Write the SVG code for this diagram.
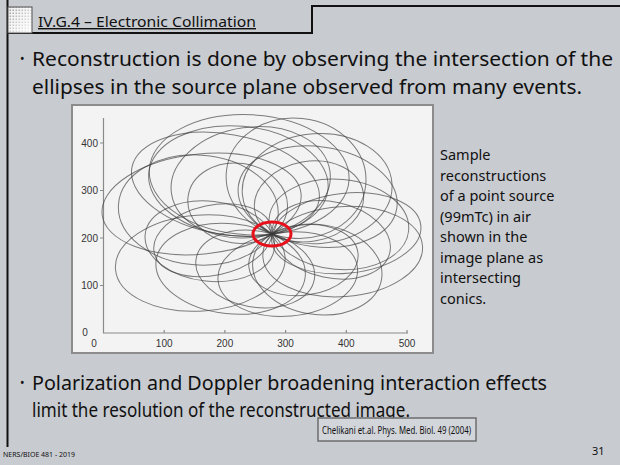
<svg xmlns="http://www.w3.org/2000/svg" width="620" height="465" viewBox="0 0 620 465">
  <style>
    .comic { font-family: "Noto Sans", "DejaVu Sans", sans-serif; fill: #111; }
    .axis { stroke: #8a8a8a; stroke-width: 1.2; fill: none; }
    .lbl { font-family: "Liberation Sans", Arial, sans-serif; font-size: 10px; fill: #333; }
    .conic { fill: none; stroke: #3a3a3a; stroke-width: 1; stroke-opacity: 0.65; }
    .dot { font-family: "Noto Sans", "DejaVu Sans", sans-serif; font-size: 12px; fill: #111; }
  </style>
  <defs>
    <pattern id="dots" width="3" height="3" patternUnits="userSpaceOnUse">
      <rect width="3" height="3" fill="#f4f4f4"/>
      <rect x="0.5" y="0.5" width="1.6" height="1.6" fill="#9a9a9a"/>
    </pattern>
    <linearGradient id="fade" x1="0" y1="0" x2="1" y2="1">
      <stop offset="0" stop-color="#ffffff" stop-opacity="0"/>
      <stop offset="1" stop-color="#ffffff" stop-opacity="0.95"/>
    </linearGradient>
  </defs>

  <!-- slide background -->
  <rect width="620" height="465" fill="#c8cbd0"/>

  <!-- frame lines -->
  <g id="frame" stroke="#111" stroke-width="2" fill="none">
    <path d="M7.5,0 V447"/>
    <path d="M7.5,33 H312 V6 H620"/>
  </g>

  <!-- header icon and title -->
  <g id="header">
    <rect x="8" y="7" width="24" height="26" fill="url(#dots)"/>
    <rect x="8" y="7" width="24" height="26" fill="url(#fade)" stroke="#555" stroke-width="1"/>
    <text class="comic" x="38" y="27" font-size="14" textLength="218" lengthAdjust="spacingAndGlyphs" text-decoration="underline">IV.G.4 – Electronic Collimation</text>
  </g>

  <!-- first bullet -->
  <g id="bullet1" class="comic" font-size="19">
    <text class="dot" x="20" y="63">•</text>
    <text x="32" y="66" textLength="581" lengthAdjust="spacingAndGlyphs">Reconstruction is done by observing the intersection of the</text>
    <text x="32" y="94" textLength="550" lengthAdjust="spacingAndGlyphs">ellipses in the source plane observed from many events.</text>
  </g>

  <!-- reconstruction plot -->
  <g id="plot">
    <rect x="72" y="105" width="361" height="248" fill="#f3f3f3" stroke="#8c8c8c" stroke-width="2"/>
    <path class="axis" d="M103.5,118 V333 H408"/>
    <path class="axis" d="M100,143 H103.5 M100,190.5 H103.5 M100,238 H103.5 M100,285.5 H103.5 M164.2,333 V330 M224.9,333 V330 M285.6,333 V330 M346.3,333 V330 M407,333 V330"/>
    <g class="lbl" text-anchor="end">
      <text x="98" y="146.5">400</text>
      <text x="98" y="194">300</text>
      <text x="98" y="241.5">200</text>
      <text x="98" y="289">100</text>
    </g>
    <g class="lbl" text-anchor="middle">
      <text x="85" y="336">0</text>
      <text x="94" y="347">0</text>
      <text x="164.2" y="347">100</text>
      <text x="224.9" y="347">200</text>
      <text x="285.6" y="347">300</text>
      <text x="346.3" y="347">400</text>
      <text x="407" y="347">500</text>
    </g>
    <!-- back-projected conics, all through the source point (272,234) -->
    <g id="conics">
      <ellipse class="conic" cx="205.1" cy="196.8" rx="100" ry="50" transform="rotate(-6 272 234)"/>
      <ellipse class="conic" cx="196.8" cy="215.2" rx="80" ry="55" transform="rotate(4 272 234)"/>
      <ellipse class="conic" cx="198.4" cy="258" rx="85" ry="48" transform="rotate(-4 272 234)"/>
      <ellipse class="conic" cx="234.5" cy="273" rx="75" ry="45" transform="rotate(6 272 234)"/>
      <ellipse class="conic" cx="284.2" cy="275.4" rx="70" ry="42" transform="rotate(-5 272 234)"/>
      <ellipse class="conic" cx="321.8" cy="262.9" rx="65" ry="45" transform="rotate(8 272 234)"/>
      <ellipse class="conic" cx="345.9" cy="241" rx="75" ry="40" transform="rotate(-6 272 234)"/>
      <ellipse class="conic" cx="337.8" cy="218.6" rx="70" ry="45" transform="rotate(5 272 234)"/>
      <ellipse class="conic" cx="320.2" cy="191.9" rx="75" ry="55" transform="rotate(-4 272 234)"/>
      <ellipse class="conic" cx="290.1" cy="176" rx="70" ry="60" transform="rotate(6 272 234)"/>
      <ellipse class="conic" cx="258.1" cy="179.8" rx="80" ry="55" transform="rotate(-8 272 234)"/>
      <ellipse class="conic" cx="233.9" cy="184.2" rx="90" ry="55" transform="rotate(5 272 234)"/>
      <ellipse class="conic" cx="217.5" cy="193" rx="95" ry="50" transform="rotate(10 272 234)"/>
      <ellipse class="conic" cx="261.6" cy="271.4" rx="60" ry="38" transform="rotate(10 272 234)"/>
      <ellipse class="conic" cx="299.5" cy="264.3" rx="55" ry="35" transform="rotate(-8 272 234)"/>
      <ellipse class="conic" cx="331.1" cy="227.4" rx="60" ry="38" transform="rotate(12 272 234)"/>
      <ellipse class="conic" cx="314.1" cy="208.3" rx="55" ry="40" transform="rotate(-10 272 234)"/>
      <ellipse class="conic" cx="233.7" cy="208.3" rx="50" ry="40" transform="rotate(8 272 234)"/>
      <ellipse class="conic" cx="212.9" cy="227.9" rx="60" ry="35" transform="rotate(-12 272 234)"/>
      <ellipse class="conic" cx="210.9" cy="247.7" rx="65" ry="40" transform="rotate(6 272 234)"/>
      <ellipse class="conic" cx="312" cy="190.7" rx="80" ry="50" transform="rotate(8 272 234)"/>
      <ellipse class="conic" cx="341.3" cy="256.5" rx="80" ry="45" transform="rotate(-4 272 234)"/>
      <ellipse class="conic" cx="246.1" cy="176" rx="100" ry="60" transform="rotate(3 272 234)"/>
    </g>
    <!-- highlighted source region -->
    <ellipse cx="272" cy="234" rx="19" ry="12" fill="none" stroke="#e8101a" stroke-width="3"/>
  </g>

  <!-- caption beside the plot -->
  <g id="caption" class="comic" font-size="14.5">
    <text x="440" y="160">Sample</text>
    <text x="440" y="180.5">reconstructions</text>
    <text x="440" y="201">of a point source</text>
    <text x="440" y="221.5">(99mTc) in air</text>
    <text x="440" y="242">shown in the</text>
    <text x="440" y="262.5">image plane as</text>
    <text x="440" y="283">intersecting</text>
    <text x="440" y="303.5">conics.</text>
  </g>

  <!-- second bullet -->
  <g id="bullet2" class="comic" font-size="19">
    <text class="dot" x="20" y="387">•</text>
    <text x="32" y="390" textLength="515" lengthAdjust="spacingAndGlyphs">Polarization and Doppler broadening interaction effects</text>
    <text x="32" y="417" textLength="378" lengthAdjust="spacingAndGlyphs">limit the resolution of the reconstructed image.</text>
  </g>

  <!-- reference box -->
  <g id="reference">
    <rect x="318" y="418" width="158" height="23" fill="#d2d5da" stroke="#6e6e6e" stroke-width="1.5"/>
    <text class="comic" x="322" y="434" font-size="10.5" textLength="149" lengthAdjust="spacingAndGlyphs">Chelikani et.al. Phys. Med. Biol. 49 (2004)</text>
  </g>

  <!-- footer -->
  <g id="footer" class="comic">
    <text x="3" y="457" font-size="7" textLength="72" lengthAdjust="spacingAndGlyphs">NERS/BIOE  481 - 2019</text>
    <text x="592" y="455" font-size="11">31</text>
  </g>
</svg>
